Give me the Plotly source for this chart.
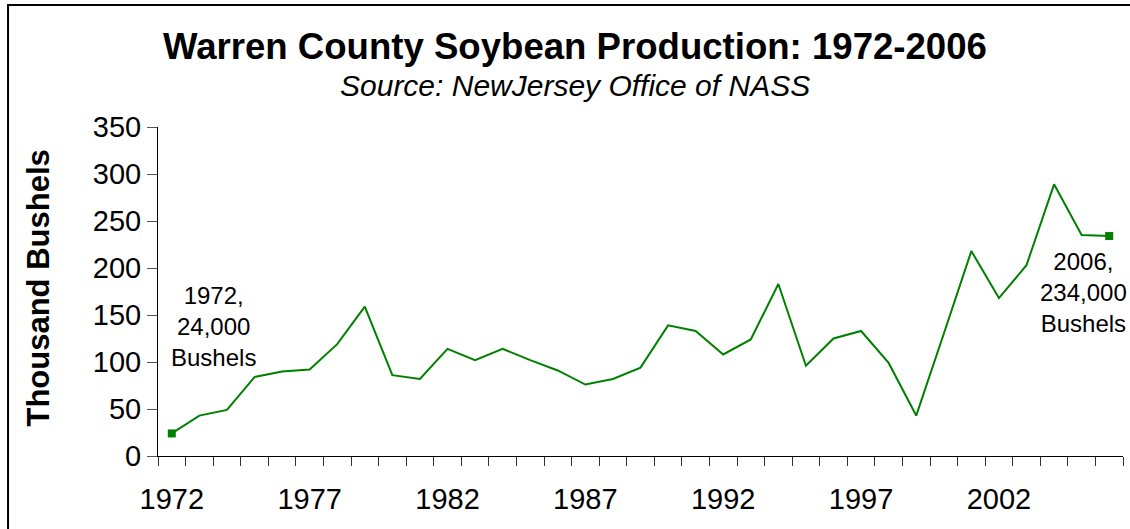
import plotly.graph_objects as go

years = list(range(1972, 2007))
production = [24, 43, 49, 84, 90, 92, 119, 159, 86, 82, 114, 102, 114, 102, 91, 76, 82, 94,
              139, 133, 108, 124, 183, 96, 125, 133, 99, 43, 130, 218, 168, 203, 289, 235, 234]
tick_years = [1972, 1977, 1982, 1987, 1992, 1997, 2002]
tick_labels = [str(y) for y in tick_years]

title_text = "<b>Warren County Soybean Production: 1972-2006</b>"
subtitle_text = "<i>Source: NewJersey Office of NASS</i>"
start_label = "1972,<br>24,000<br>Bushels"
end_label = "2006,<br>234,000<br>Bushels"

FONT = "Liberation Sans, Arial, sans-serif"
GREEN = "#008000"

fig = go.Figure()
fig.add_trace(go.Scatter(x=years, y=production, mode="lines",
                         line=dict(color=GREEN, width=2), showlegend=False))
fig.add_trace(go.Scatter(x=[years[0], years[-1]], y=[production[0], production[-1]],
                         mode="markers", marker=dict(color=GREEN, size=8, symbol="square"),
                         showlegend=False))

fig.update_layout(
    template="none",
    width=1130, height=529,
    margin=dict(l=158, r=7, t=127, b=73),
    plot_bgcolor="white", paper_bgcolor="white",
    font=dict(family=FONT, color="black"),
    xaxis=dict(
        automargin=False,
        range=[1971.5, 2006.5], tickmode="array", tickvals=tick_years, ticktext=tick_labels,
        ticks="outside", ticklen=0, tickfont=dict(size=29), ticklabelstandoff=17,
        showline=True, linecolor="black", linewidth=1, showgrid=False, zeroline=False,
        minor=dict(ticks="outside", ticklen=9, tick0=1971.5, dtick=1, tickcolor="#333",
                   tickwidth=1, showgrid=False),
    ),
    yaxis=dict(
        automargin=False,
        range=[0, 350], dtick=50, ticks="outside", ticklen=10, tickcolor="#555",
        tickfont=dict(size=29), showline=True, linecolor="black", linewidth=1,
        showgrid=False, zeroline=False,
    ),
    annotations=[
        dict(text=title_text, xref="paper", yref="paper", x=0.432, y=1.2438,
             xanchor="center", yanchor="middle", showarrow=False, font=dict(size=36.6)),
        dict(text=subtitle_text, xref="paper", yref="paper", x=0.432, y=1.1267,
             xanchor="center", yanchor="middle", showarrow=False, font=dict(size=30)),
        dict(text="<b>Thousand Bushels</b>", xref="paper", yref="paper", x=-0.124, y=0.51,
             xanchor="center", yanchor="middle", textangle=-90, showarrow=False,
             font=dict(size=31)),
        dict(text=start_label, x=1973.52, y=138, xref="x", yref="y", showarrow=False,
             xanchor="center", yanchor="middle", font=dict(size=24)),
        dict(text=end_label, x=2005.05, y=173.5, xref="x", yref="y", showarrow=False,
             xanchor="center", yanchor="middle", font=dict(size=24)),
    ],
    shapes=[
        dict(type="rect", xref="paper", yref="paper", x0=-0.1554, x1=1.02, y0=-0.4, y1=1.3708,
             line=dict(color="black", width=2), fillcolor="rgba(0,0,0,0)", layer="above"),
    ],
)

fig.write_html("out.html", config={"displayModeBar": False},
               post_script="document.body.style.margin='0';document.body.style.overflow='hidden';")
